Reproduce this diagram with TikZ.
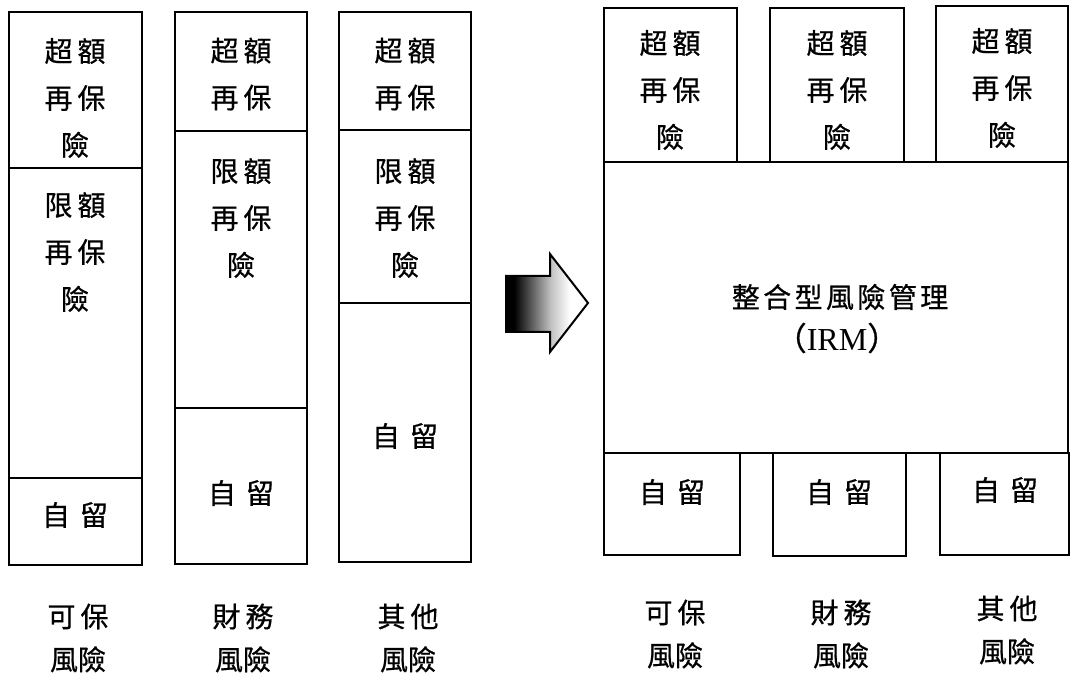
\documentclass[tikz,border=0pt]{standalone}
\usepackage{fontspec}
\setmainfont{Liberation Serif}
\newfontfamily\cjk[FakeBold=0.6]{Noto Sans CJK TC}
\newcommand\gp{\kern2.5pt}
\newcommand\gq{\kern1.7pt}
\pgfdeclarehorizontalshading{arrowsh}{100bp}{color(0bp)=(black); color(30bp)=(black); color(52bp)=(gray!50); color(64bp)=(white); color(100bp)=(white)}
\begin{document}
\begin{tikzpicture}[x=0.5pt,y={(0,-0.5pt)},
  box/.style={draw, line width=1.2pt},
  txt/.style={font=\cjk\fontsize{14}{23.5}\selectfont, align=center, inner sep=0pt},
  lbl/.style={font=\cjk\fontsize{14}{21.5}\selectfont, align=center, inner sep=0pt},
  irm/.style={font=\fontsize{16}{20}\selectfont, inner sep=0pt}]
\useasboundingbox (0,0) rectangle (1070,678);
\fill[white] (0,0) rectangle (1070,678);
% left column 1
\draw[box] (9,12) rectangle (142,168);
\draw[box] (9,168) rectangle (142,478);
\draw[box] (9,478) rectangle (142,565);
% left column 2
\draw[box] (175,12) rectangle (307,131);
\draw[box] (175,131) rectangle (307,408);
\draw[box] (175,408) rectangle (307,564);
% left column 3
\draw[box] (339,12) rectangle (471,130);
\draw[box] (339,130) rectangle (471,303);
\draw[box] (339,303) rectangle (471,562);
% texts left
\node[txt] (a1) at (75,98) {超\gp 額\\再\gp 保\\險};
\node[txt] (a2) at (75,252) {限\gp 額\\再\gp 保\\險};
\node[txt] (a3) at (75,515) {自\gp\gp 留};
\node[txt] (b1) at (241,74) {超\gp 額\\再\gp 保};
\node[txt] (b2) at (241,218) {限\gp 額\\再\gp 保\\險};
\node[txt] (b3) at (241,493) {自\gp\gp 留};
\node[txt] (c1) at (405,74) {超\gp 額\\再\gp 保};
\node[txt] (c2) at (405,218) {限\gp 額\\再\gp 保\\險};
\node[txt] (c3) at (405,436) {自\gp\gp 留};
\node[lbl] (la) at (78,638) {可\gp 保\\風險};
\node[lbl] (lb) at (243,638) {財\gp 務\\風險};
\node[lbl] (lc) at (408,638) {其\gp 他\\風險};
% arrow
\path[draw, line width=1pt, shading=arrowsh]
  (506,276) -- (550,276) -- (550,254) -- (588,303) -- (550,352) -- (550,332) -- (506,332) -- cycle;
% right side top boxes
\draw[box] (604,8) rectangle (737,162);
\draw[box] (770,8) rectangle (904,162);
\draw[box] (936,6) rectangle (1068,162);
% IRM box
\draw[box] (604,162) rectangle (1068,453);
% bottom boxes
\draw[box] (604,453) rectangle (740,555);
\draw[box] (773,453) rectangle (906,556);
\draw[box] (940,453) rectangle (1069,555);
% texts right
\node[txt] (ra) at (670,90) {超\gp 額\\再\gp 保\\險};
\node[txt] (rb) at (837,90) {超\gp 額\\再\gp 保\\險};
\node[txt] (rc) at (1002,88) {超\gp 額\\再\gp 保\\險};
\node[txt] (title) at (840,297) {整\gq 合\gq 型\gq 風\gq 險\gq 管\gq 理};
\node[irm] (irmt) at (837,338) {{\cjk （}IRM{\cjk ）}};
\node[txt] (rd) at (672,492) {自\gp\gp 留};
\node[txt] (re) at (839,492) {自\gp\gp 留};
\node[txt] (rf) at (1005,490) {自\gp\gp 留};
\node[lbl] (rla) at (675,634) {可\gp 保\\風險};
\node[lbl] (rlb) at (841,634) {財\gp 務\\風險};
\node[lbl] (rlc) at (1007,630) {其\gp 他\\風險};
\end{tikzpicture}
\end{document}
